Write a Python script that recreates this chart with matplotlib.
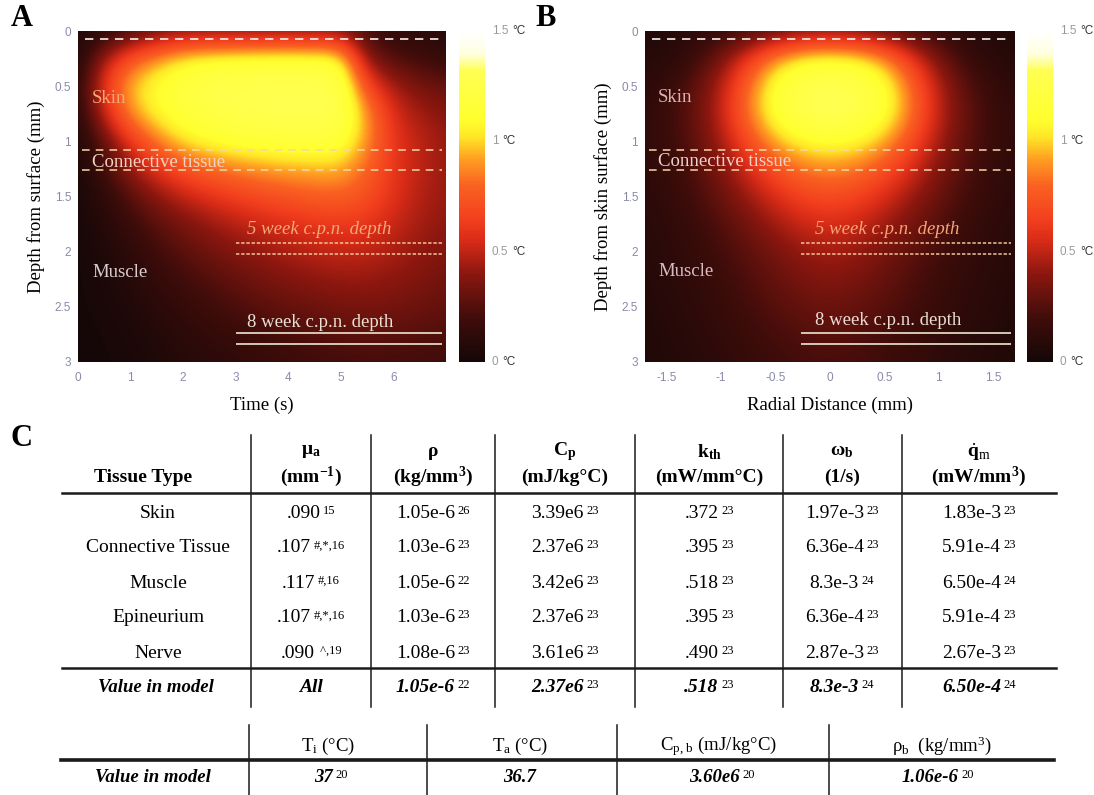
import numpy as np
import matplotlib
matplotlib.use('Agg')
import matplotlib.pyplot as plt
from matplotlib.colors import LinearSegmentedColormap
from matplotlib.lines import Line2D
from matplotlib.offsetbox import TextArea, HPacker, AnnotationBbox

# 字体设置
plt.rcParams['font.family'] = ['Liberation Serif', 'DejaVu Serif']
plt.rcParams['mathtext.fontset'] = 'custom'
plt.rcParams['mathtext.rm'] = 'Liberation Serif'
plt.rcParams['mathtext.it'] = 'Liberation Serif:italic'
plt.rcParams['mathtext.bf'] = 'Liberation Serif:bold'

W, H = 1094, 795

# ---------------- 数据: 温升场 (°C) ----------------
depth = [0, 0.25, 0.5, 0.75, 1.0, 1.25, 1.5, 1.75, 2.0, 2.25, 2.5, 2.75, 3.0]
time_s = [0, 0.5, 1, 1.5, 2, 2.5, 3, 3.5, 4, 4.5, 5, 5.5, 6, 6.5, 7]
radial = [-1.75, -1.5, -1.25, -1, -0.75, -0.5, -0.25, 0, 0.25, 0.5, 0.75, 1, 1.25, 1.5, 1.75]

temp_time = [
    [0.05, 0.10, 0.20, 0.30, 0.35, 0.35, 0.35, 0.35, 0.35, 0.35, 0.35, 0.20, 0.12, 0.10, 0.08],
    [0.05, 0.45, 0.75, 0.92, 1.06, 1.12, 1.14, 1.16, 1.16, 1.16, 1.12, 0.38, 0.25, 0.20, 0.15],
    [0.10, 0.62, 0.98, 1.12, 1.22, 1.27, 1.30, 1.31, 1.31, 1.31, 1.28, 0.68, 0.45, 0.35, 0.30],
    [0.08, 0.52, 0.90, 1.08, 1.18, 1.24, 1.28, 1.30, 1.31, 1.31, 1.29, 0.92, 0.55, 0.45, 0.38],
    [0.05, 0.30, 0.60, 0.85, 1.02, 1.10, 1.15, 1.18, 1.20, 1.20, 1.18, 0.90, 0.60, 0.50, 0.42],
    [0.03, 0.20, 0.42, 0.58, 0.72, 0.80, 0.86, 0.90, 0.93, 0.95, 0.95, 0.80, 0.60, 0.50, 0.42],
    [0.02, 0.12, 0.26, 0.40, 0.50, 0.58, 0.64, 0.70, 0.74, 0.77, 0.78, 0.72, 0.58, 0.48, 0.42],
    [0.02, 0.08, 0.17, 0.27, 0.35, 0.42, 0.48, 0.53, 0.57, 0.60, 0.62, 0.60, 0.52, 0.45, 0.40],
    [0.01, 0.05, 0.12, 0.20, 0.27, 0.33, 0.38, 0.42, 0.46, 0.49, 0.51, 0.50, 0.46, 0.41, 0.37],
    [0.01, 0.04, 0.08, 0.14, 0.20, 0.25, 0.30, 0.34, 0.37, 0.40, 0.42, 0.42, 0.40, 0.37, 0.33],
    [0.01, 0.03, 0.06, 0.10, 0.15, 0.19, 0.23, 0.27, 0.30, 0.32, 0.34, 0.35, 0.34, 0.32, 0.29],
    [0.00, 0.02, 0.04, 0.07, 0.11, 0.14, 0.17, 0.20, 0.23, 0.25, 0.27, 0.28, 0.27, 0.26, 0.24],
    [0.00, 0.01, 0.03, 0.05, 0.08, 0.10, 0.12, 0.15, 0.17, 0.19, 0.20, 0.21, 0.21, 0.20, 0.19],
]

temp_radial = [
    [0.05, 0.07, 0.10, 0.15, 0.20, 0.27, 0.33, 0.35, 0.33, 0.27, 0.20, 0.15, 0.10, 0.07, 0.05],
    [0.08, 0.10, 0.18, 0.35, 0.62, 0.92, 1.08, 1.12, 1.08, 0.92, 0.62, 0.35, 0.18, 0.10, 0.08],
    [0.10, 0.15, 0.27, 0.48, 0.82, 1.15, 1.28, 1.33, 1.28, 1.15, 0.82, 0.48, 0.27, 0.15, 0.10],
    [0.12, 0.17, 0.30, 0.50, 0.85, 1.15, 1.28, 1.35, 1.28, 1.15, 0.85, 0.50, 0.30, 0.17, 0.12],
    [0.12, 0.17, 0.28, 0.45, 0.70, 0.95, 1.08, 1.12, 1.08, 0.95, 0.70, 0.45, 0.28, 0.17, 0.12],
    [0.11, 0.15, 0.24, 0.37, 0.55, 0.72, 0.84, 0.88, 0.84, 0.72, 0.55, 0.37, 0.24, 0.15, 0.11],
    [0.10, 0.14, 0.21, 0.31, 0.43, 0.56, 0.66, 0.70, 0.66, 0.56, 0.43, 0.31, 0.21, 0.14, 0.10],
    [0.09, 0.12, 0.17, 0.25, 0.34, 0.44, 0.52, 0.56, 0.52, 0.44, 0.34, 0.25, 0.17, 0.12, 0.09],
    [0.08, 0.11, 0.15, 0.21, 0.28, 0.35, 0.42, 0.45, 0.42, 0.35, 0.28, 0.21, 0.15, 0.11, 0.08],
    [0.07, 0.10, 0.13, 0.18, 0.24, 0.30, 0.35, 0.38, 0.35, 0.30, 0.24, 0.18, 0.13, 0.10, 0.07],
    [0.06, 0.09, 0.12, 0.16, 0.21, 0.26, 0.30, 0.32, 0.30, 0.26, 0.21, 0.16, 0.12, 0.09, 0.06],
    [0.05, 0.08, 0.10, 0.14, 0.18, 0.22, 0.25, 0.27, 0.25, 0.22, 0.18, 0.14, 0.10, 0.08, 0.05],
    [0.05, 0.07, 0.09, 0.12, 0.15, 0.18, 0.21, 0.22, 0.21, 0.18, 0.15, 0.12, 0.09, 0.07, 0.05],
]

# 组织分层深度 (mm)
surface_line = 0.07
connective_lines = [1.08, 1.26]
week5_lines = [1.92, 2.02]
week8_lines = [2.74, 2.84]

cbar_ticks = [0, 0.5, 1, 1.5]
cbar_labels = ['0', '0.5', '1', '1.5']

# ---------------- 数据: 表格 ----------------
tissue_types = ['Skin', 'Connective Tissue', 'Muscle', 'Epineurium', 'Nerve']
mu_a = ['.090', '.107', '.117', '.107', '.090']
mu_a_ref = ['15', '#,*,16', '#,16', '#,*,16', ' ^,19']
rho = ['1.05e-6', '1.03e-6', '1.05e-6', '1.03e-6', '1.08e-6']
rho_ref = ['26', '23', '22', '23', '23']
cp = ['3.39e6', '2.37e6', '3.42e6', '2.37e6', '3.61e6']
cp_ref = ['23', '23', '23', '23', '23']
kth = ['.372', '.395', '.518', '.395', '.490']
kth_ref = ['23', '23', '23', '23', '23']
omega_b = ['1.97e-3', '6.36e-4', '8.3e-3', '6.36e-4', '2.87e-3']
omega_b_ref = ['23', '23', '24', '23', '23']
q_m = ['1.83e-3', '5.91e-4', '6.50e-4', '5.91e-4', '2.67e-3']
q_m_ref = ['23', '23', '24', '23', '23']
model_values = ['All', '1.05e-6', '2.37e6', '.518', '8.3e-3', '6.50e-4']
model_refs = ['', '22', '23', '23', '24', '24']

header_symbols = [r'μ$_\mathbf{a}$', 'ρ', r'C$_\mathbf{p}$', r'k$_\mathbf{th}$',
                  r'ω$_\mathbf{b}$', r'$\dot{\mathbf{q}}_\mathrm{m}$']
header_units = [r'(mm$^\mathbf{-1}$)', r'(kg/mm$^\mathbf{3}$)', '(mJ/kg°C)',
                '(mW/mm°C)', '(1/s)', r'(mW/mm$^\mathbf{3}$)']

blood_headers = [r'T$_\mathrm{i}$ (°C)', r'T$_\mathrm{a}$ (°C)',
                 r'C$_\mathrm{p,\,b}$ (mJ/kg°C)', r'ρ$_\mathrm{b}$  (kg/mm$^3$)']
blood_values = ['37', '36.7', '3.60e6', '1.06e-6']
blood_refs = ['20', '', '20', '20']

# 颜色映射 (类似 hot, 黄色段更长)
cmap = LinearSegmentedColormap.from_list('heat', [
    (0.000, (0.08, 0.03, 0.03)),
    (0.133, (0.25, 0.05, 0.04)),
    (0.267, (0.55, 0.09, 0.06)),
    (0.367, (0.85, 0.17, 0.09)),
    (0.433, (0.95, 0.25, 0.12)),
    (0.533, (0.98, 0.38, 0.13)),
    (0.613, (1.00, 0.62, 0.13)),
    (0.680, (1.00, 0.90, 0.15)),
    (0.733, (1.00, 1.00, 0.18)),
    (0.880, (1.00, 1.00, 0.32)),
    (0.933, (1.00, 1.00, 0.88)),
    (1.000, (1.00, 1.00, 1.00)),
])


def fx(px):
    return px / W


def fy(py):
    return 1 - py / H


fig = plt.figure(figsize=(W / 100, H / 100), dpi=100)

ax_a = fig.add_axes([fx(78), fy(362), fx(446) - fx(78), fy(31) - fy(362)])
cax_a = fig.add_axes([fx(459), fy(362), fx(485) - fx(459), fy(31) - fy(362)])
ax_b = fig.add_axes([fx(645), fy(362), fx(1015) - fx(645), fy(31) - fy(362)])
cax_b = fig.add_axes([fx(1027), fy(362), fx(1053) - fx(1027), fy(31) - fy(362)])

tick_color = '#8a8aa8'


def draw_heat(ax, cax, xs, field, xlim, xticks, xlabels, ylabel, xlabel,
              line_x0, texts):
    dx = xs[1] - xs[0]
    dz = depth[1] - depth[0]
    im = ax.imshow(np.array(field), cmap=cmap, vmin=0, vmax=1.5, aspect='auto',
                   interpolation='bicubic', origin='upper',
                   extent=[xs[0] - dx / 2, xs[-1] + dx / 2,
                           depth[-1] + dz / 2, depth[0] - dz / 2])
    ax.set_xlim(xlim)
    ax.set_ylim(3, 0)
    for s in ax.spines.values():
        s.set_visible(False)

    span = xlim[1] - xlim[0]
    # 分层线
    ax.hlines(surface_line, xlim[0] + 0.02 * span, xlim[1] - 0.01 * span,
              colors='#f2f2f2', linestyles=(0, (5, 4)), linewidth=1.2)
    ax.hlines(connective_lines, xlim[0] + 0.01 * span, xlim[1] - 0.01 * span,
              colors='#f6d7a8', linestyles=(0, (5, 4)), linewidth=1.1)
    ax.hlines(week5_lines, line_x0, xlim[1] - 0.01 * span,
              colors='#f2c49a', linestyles=(0, (2.2, 1.2)), linewidth=1.1)
    ax.hlines(week8_lines, line_x0, xlim[1] - 0.01 * span,
              colors='#ece8cf', linestyles='-', linewidth=1.2)

    for (tx, ty, s, c, st) in texts:
        ax.text(tx, ty, s, color=c, fontsize=13.5, style=st, ha='left', va='center')

    ax.set_xticks(xticks, xlabels)
    ax.set_yticks([0, 0.5, 1, 1.5, 2, 2.5, 3], ['0', '0.5', '1', '1.5', '2', '2.5', '3'])
    ax.tick_params(length=0, labelsize=8.5, labelcolor=tick_color)
    ax.tick_params(axis='x', pad=7)
    ax.tick_params(axis='y', pad=5)
    plt.setp(ax.get_xticklabels() + ax.get_yticklabels(), family='Liberation Sans')
    ax.set_xlabel(xlabel, fontsize=13.5, labelpad=9)
    ax.set_ylabel(ylabel, fontsize=13.5, labelpad=7)

    # 色标
    cb = fig.colorbar(im, cax=cax)
    cb.outline.set_visible(False)
    cb.set_ticks([])
    for v, lab in zip(cbar_ticks, cbar_labels):
        box = HPacker(children=[
            TextArea(lab, textprops=dict(color='#9a9a9a', fontsize=8.5, family='Liberation Sans')),
            TextArea('°C', textprops=dict(color='#333333', fontsize=8.5, family='Liberation Sans'))],
            align='center', pad=0, sep=3)
        ab = AnnotationBbox(box, (1, v), xycoords=cax.get_yaxis_transform(),
                            xybox=(5, 0), boxcoords='offset points',
                            box_alignment=(0, 0.5), frameon=False, pad=0)
        cax.add_artist(ab)


texts_a = [
    (0.27, 0.61, 'Skin', '#f4a877', 'normal'),
    (0.27, 1.19, 'Connective tissue', '#f3d2c0', 'normal'),
    (3.21, 1.80, '5 week c.p.n. depth', '#f2a878', 'italic'),
    (0.27, 2.19, 'Muscle', '#d9cccc', 'normal'),
    (3.21, 2.64, '8 week c.p.n. depth', '#e9e1d6', 'normal'),
]
texts_b = [
    (-1.58, 0.60, 'Skin', '#dcb2b0', 'normal'),
    (-1.58, 1.18, 'Connective tissue', '#eed2c8', 'normal'),
    (-0.14, 1.80, '5 week c.p.n. depth', '#f4a476', 'italic'),
    (-1.58, 2.18, 'Muscle', '#d6bcc2', 'normal'),
    (-0.14, 2.62, '8 week c.p.n. depth', '#e9ddd2', 'normal'),
]

draw_heat(ax_a, cax_a, time_s, temp_time, (0, 7), [0, 1, 2, 3, 4, 5, 6],
          ['0', '1', '2', '3', '4', '5', '6'], 'Depth from surface (mm)', 'Time (s)',
          3.0, texts_a)
draw_heat(ax_b, cax_b, radial, temp_radial, (-1.7, 1.7), [-1.5, -1, -0.5, 0, 0.5, 1, 1.5],
          ['-1.5', '-1', '-0.5', '0', '0.5', '1', '1.5'], 'Depth from skin surface (mm)',
          'Radial Distance (mm)', -0.27, texts_b)

# 面板字母
for lx, ly, letter in [(22, 19, 'A'), (546, 19, 'B'), (21, 439, 'C')]:
    fig.text(fx(lx), fy(ly), letter, fontsize=22, fontweight='bold', ha='center', va='center')


# ---------------- 表格 ----------------
def hline(x0, x1, y, lw=1.8):
    fig.add_artist(Line2D([fx(x0), fx(x1)], [fy(y), fy(y)], transform=fig.transFigure,
                          color='#1a1a1a', linewidth=lw))


def vline(x, y0, y1, lw=1.1):
    fig.add_artist(Line2D([fx(x), fx(x)], [fy(y0), fy(y1)], transform=fig.transFigure,
                          color='#1a1a1a', linewidth=lw))


def cell(x, y, main, sup='', size=14, weight='normal', style='normal', sup_size=9):
    children = [TextArea(main, textprops=dict(fontsize=size, fontweight=weight, fontstyle=style))]
    if sup:
        children.append(TextArea(sup, textprops=dict(fontsize=sup_size)))
    box = HPacker(children=children, align='top', pad=0, sep=2)
    ab = AnnotationBbox(box, (fx(x), fy(y)), xycoords='figure fraction',
                        box_alignment=(0.5, 0.5), frameon=False, pad=0)
    fig.add_artist(ab)


col_lines = [251, 371, 495, 635, 783, 902]
col_centers = [311, 433, 565, 709, 842, 979]
row_ys = [513, 548, 583, 618, 653]
model_y = 688

for x in col_lines:
    vline(x, 435, 707)
hline(62, 1056, 493)
hline(62, 1056, 668)

fig.text(fx(143), fy(478), 'Tissue Type', fontsize=14, fontweight='bold', ha='center', va='center')
for x, sym, unit in zip(col_centers, header_symbols, header_units):
    fig.text(fx(x), fy(452), sym, fontsize=14, fontweight='bold', ha='center', va='center')
    fig.text(fx(x), fy(477), unit, fontsize=14, fontweight='bold', ha='center', va='center')

columns = [(mu_a, mu_a_ref), (rho, rho_ref), (cp, cp_ref), (kth, kth_ref),
           (omega_b, omega_b_ref), (q_m, q_m_ref)]
for i, name in enumerate(tissue_types):
    fig.text(fx(158), fy(row_ys[i]), name, fontsize=14, ha='center', va='center')
    for x, (vals, refs) in zip(col_centers, columns):
        cell(x, row_ys[i], vals[i], refs[i])

fig.text(fx(156), fy(model_y), 'Value in model', fontsize=13.5, fontweight='bold',
         fontstyle='italic', ha='center', va='center')
for x, v, r in zip(col_centers, model_values, model_refs):
    cell(x, model_y, v, r, weight='bold', style='italic')

# 血液参数表
blood_lines = [249, 427, 617, 829]
blood_head_x = [328, 520, 719, 942]
blood_val_x = [331, 520, 722, 938]
for x in blood_lines:
    vline(x, 725, 795)
hline(61, 1054, 760, lw=2.6)
for x, h in zip(blood_head_x, blood_headers):
    fig.text(fx(x), fy(746), h, fontsize=13.5, ha='center', va='center')
fig.text(fx(153), fy(778), 'Value in model', fontsize=13.5, fontweight='bold',
         fontstyle='italic', ha='center', va='center')
for x, v, r in zip(blood_val_x, blood_values, blood_refs):
    cell(x, 778, v, r, size=13.5, weight='bold', style='italic')

plt.savefig('out.png', dpi=100)
plt.close()
